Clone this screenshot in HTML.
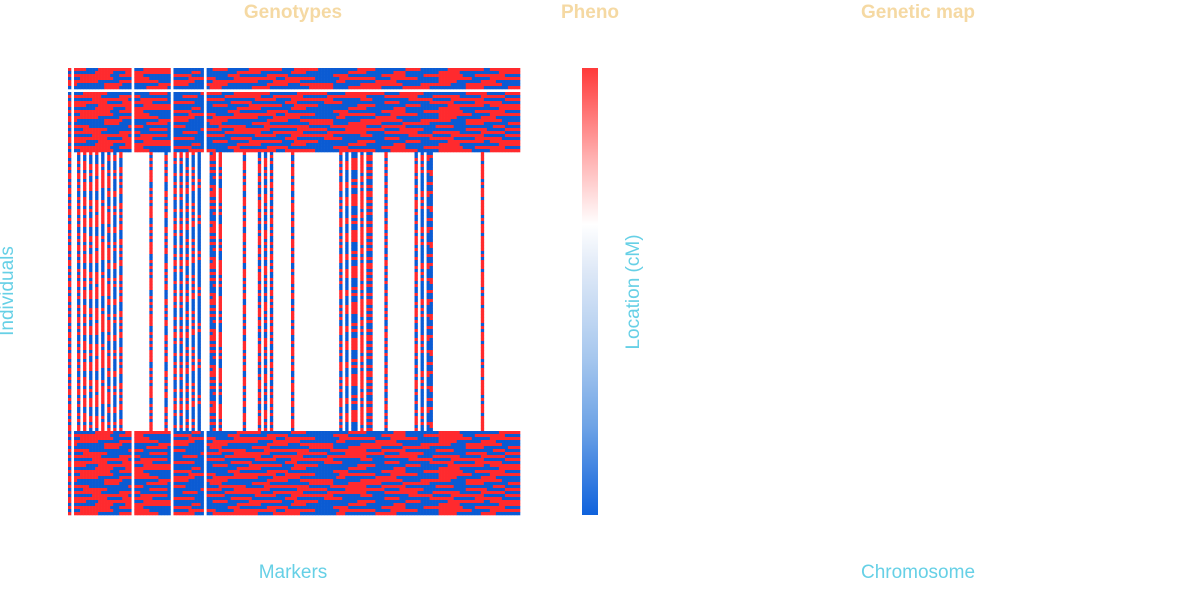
<!DOCTYPE html>
<html><head><meta charset="utf-8">
<style>
body{margin:0;background:#fff;font-family:"Liberation Sans",sans-serif}
#wrap{position:relative;width:1180px;height:600px;overflow:hidden}
.t{position:absolute;font-size:19px;font-weight:bold;color:#f5d9a3;transform:translateX(-50%);top:2px;white-space:nowrap}
.a{position:absolute;font-size:19px;color:#66d0e6;white-space:nowrap}
</style></head><body>
<div id="wrap">
<div class="t" style="left:293px">Genotypes</div>
<div class="t" style="left:590px">Pheno</div>
<div class="t" style="left:918px">Genetic map</div>
<div class="a" style="left:293px;top:562px;transform:translateX(-50%)">Markers</div>
<div class="a" style="left:918px;top:562px;transform:translateX(-50%)">Chromosome</div>
<div class="a" style="left:8px;top:291px;transform:translate(-50%,-50%) rotate(-90deg)">Individuals</div>
<div class="a" style="left:634px;top:292px;transform:translate(-50%,-50%) rotate(-90deg)">Location (cM)</div>
<div style="position:absolute;left:582px;top:68px;width:16px;height:447px;background:linear-gradient(#ff3a3a 0%,#ffb0b0 20%,#fff 35%,#dfe9f7 45%,#a6c7ee 65%,#6fa4e6 80%,#0f62dc 100%)"></div>
<svg id="hm" width="1180" height="600" style="position:absolute;left:0;top:0"></svg>
</div>
<script>
// column mask: 1 = data in all individuals, 0 = only top/bottom groups, - = empty marker
const colMask =
 "1-01010101"+"0101010100"+"0-00000100"+"0010-10101"+"01010-0110"+"1000000010"+
 "0001010100"+"0000100000"+"0000000000"+"1010110101"+"1000010000"+"0000010101"+
 "1000000000"+"0000000100"+"0000000000";
// genotype row patterns as run lengths; first entry is the starting allele (A = red, B = blue)
const rowRuns = [
 ["A",[6,4,12,3,9,14,5,7,11,4,8,13,6,10,5,9,12,2,10]],
 ["B",[9,6,4,15,7,3,12,8,10,5,14,6,9,4,11,7,13,7]],
 ["A",[14,3,8,10,6,12,4,9,7,15,5,11,8,6,13,4,10,5]],
 ["B",[4,11,7,5,13,9,6,14,3,10,8,12,5,9,7,11,6,10]],
 ["A",[10,7,13,4,8,6,15,5,9,12,3,10,7,14,6,8,5,8]],
 ["A",[3,9,6,12,10,5,8,13,7,4,11,9,14,6,10,5,12,6]],
 ["B",[12,5,9,7,14,4,10,6,13,8,5,11,7,9,12,6,8,4]],
 ["A",[7,13,5,10,4,11,9,6,15,7,12,5,8,10,6,13,4,5]],
 ["B",[5,8,14,6,11,7,4,12,9,10,6,13,5,8,14,7,6,5]],
 ["A",[11,6,7,14,5,9,12,4,10,8,13,6,11,5,9,7,8,5]],
 ["B",[8,12,4,9,13,6,10,7,5,14,9,4,12,8,6,11,7,5]],
 ["A",[13,5,10,6,8,12,7,11,4,9,6,14,5,10,8,7,9,6]]
];
const nRows = 149, topEnd = 28, botStart = 121, blankRow = 7;
const nCols = colMask.length;
const x0 = 68, y0 = 68, cw = 452/nCols, rh = 447/nRows;
const xPos = c => x0 + c*cw, yPos = r => y0 + r*rh;
function expand(def){
  let s = '', cur = def[0], i = 0;
  while (s.length < nCols){ s += cur.repeat(def[1][i % def[1].length]); cur = cur === 'A' ? 'B' : 'A'; i++; }
  return s.slice(0, nCols);
}
const rowPatterns = rowRuns.map(expand);
const svg = document.getElementById('hm'), NS = 'http://www.w3.org/2000/svg';
for (let r = 0; r < nRows; r++) {
  if (r === blankRow) continue;
  const inEnds = r < topEnd || r >= botStart;
  const pat = rowPatterns[r % rowPatterns.length];
  for (let c = 0; c < nCols; c++) {
    const m = colMask[c];
    if (m === '-') continue;
    if (m === '0' && !inEnds) continue;
    const el = document.createElementNS(NS, 'rect');
    
    
    el.setAttribute('x', xPos(c)); el.setAttribute('y', yPos(r));
    el.setAttribute('width', cw + 0.3); el.setAttribute('height', rh + 0.3);
    el.setAttribute('fill', pat[c] === 'A' ? '#ff2a2e' : '#0b5bd3');
    svg.appendChild(el);
  }
}
</script>
</body></html>
